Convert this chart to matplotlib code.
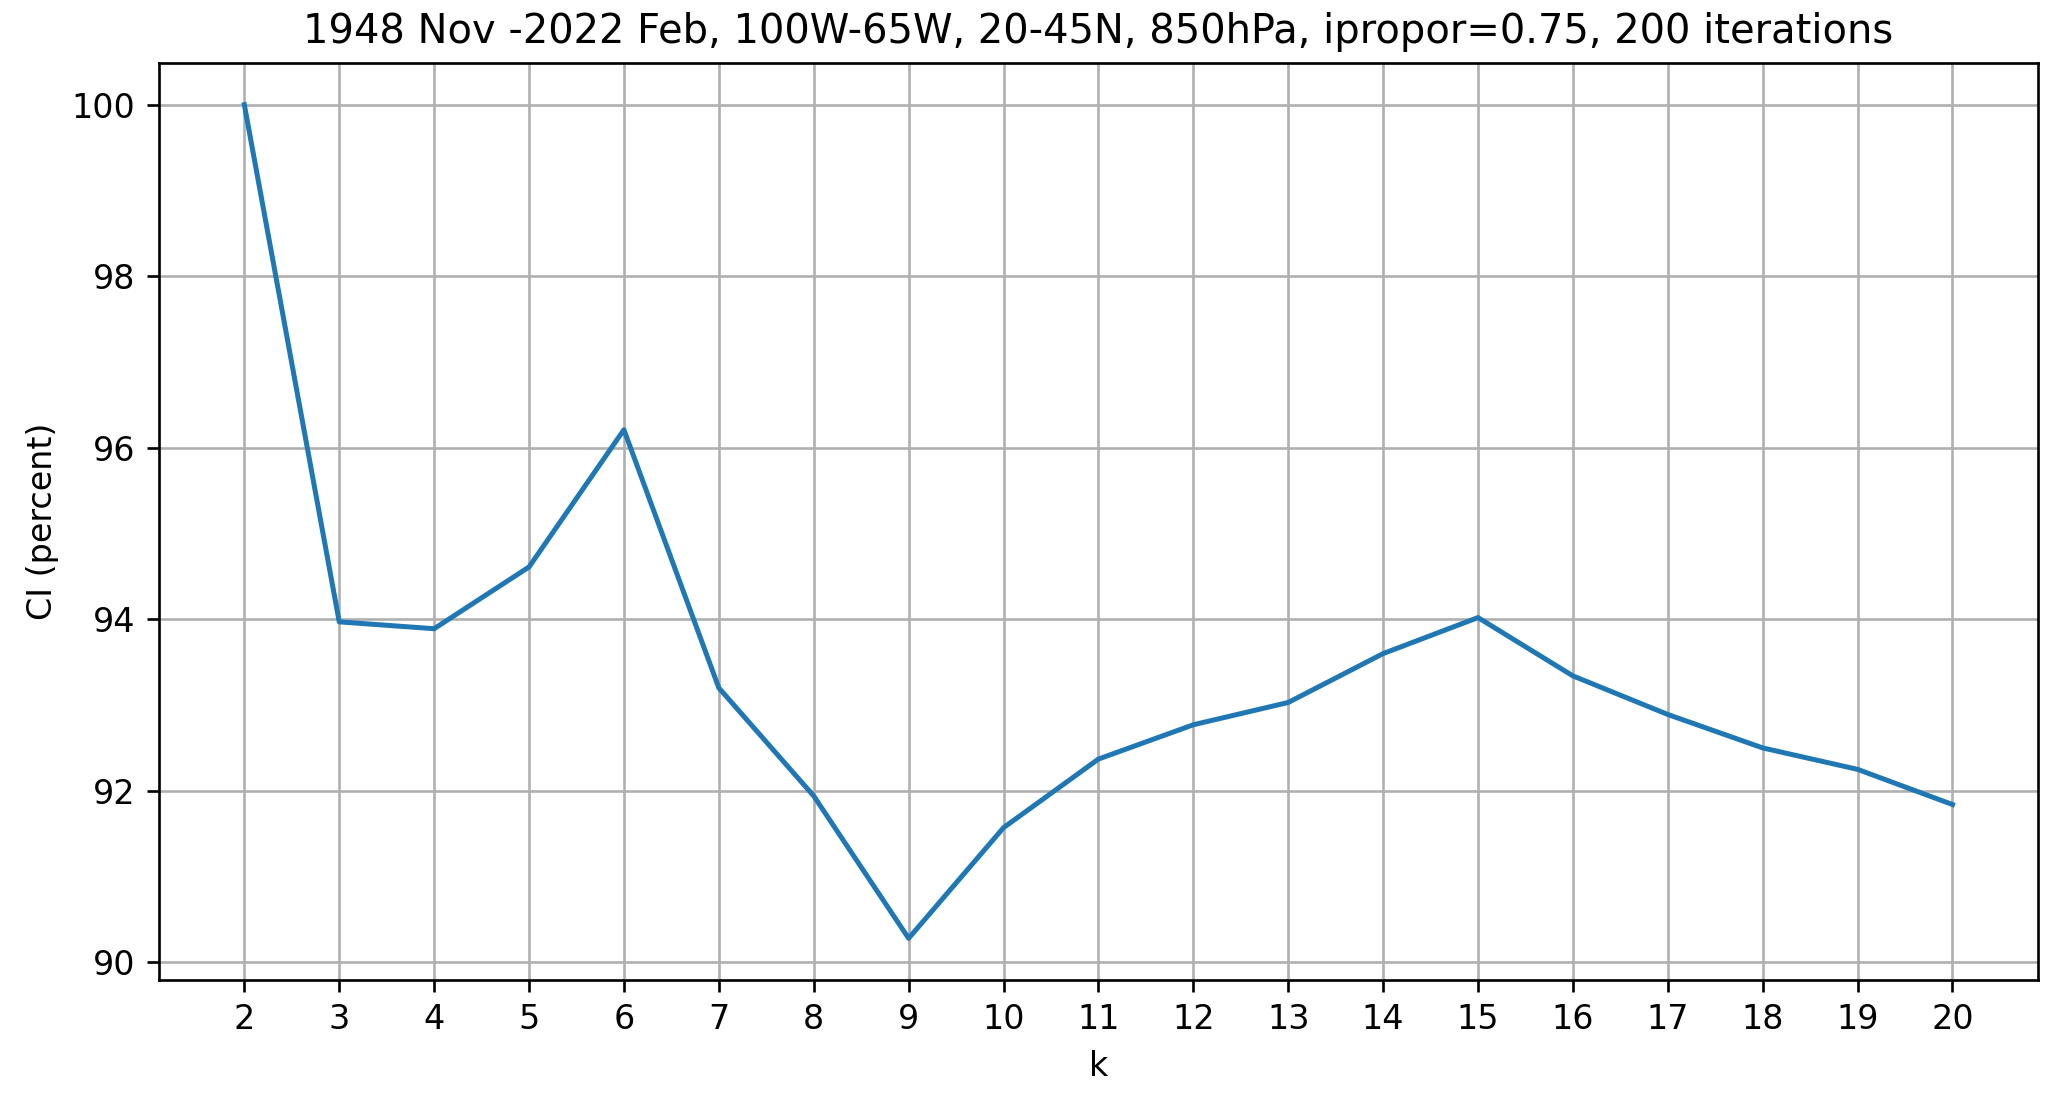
import matplotlib
matplotlib.use("Agg")
import matplotlib.pyplot as plt
import numpy as np

# number of clusters k and classifiability index (percent)
k = [2, 3, 4, 5, 6, 7, 8, 9, 10, 11, 12, 13, 14, 15, 16, 17, 18, 19, 20]
ci = [100.0, 93.97, 93.89, 94.61, 96.21, 93.20, 91.94, 90.28, 91.57, 92.37,
      92.77, 93.03, 93.60, 94.02, 93.34, 92.89, 92.50, 92.25, 91.84]

title = "1948 Nov -2022 Feb, 100W-65W, 20-45N, 850hPa, ipropor=0.75, 200 iterations"

fig = plt.figure(figsize=(2056 / 240, 1094 / 240), dpi=240)
plt.subplots_adjust(left=0.0773, right=0.9912, top=0.9424, bottom=0.1042)

plt.plot(k, ci)
plt.xticks(k)
plt.grid(True)
plt.xlabel("k")
plt.ylabel("CI (percent)")
plt.title(title)

plt.savefig("out.png", dpi=240)
